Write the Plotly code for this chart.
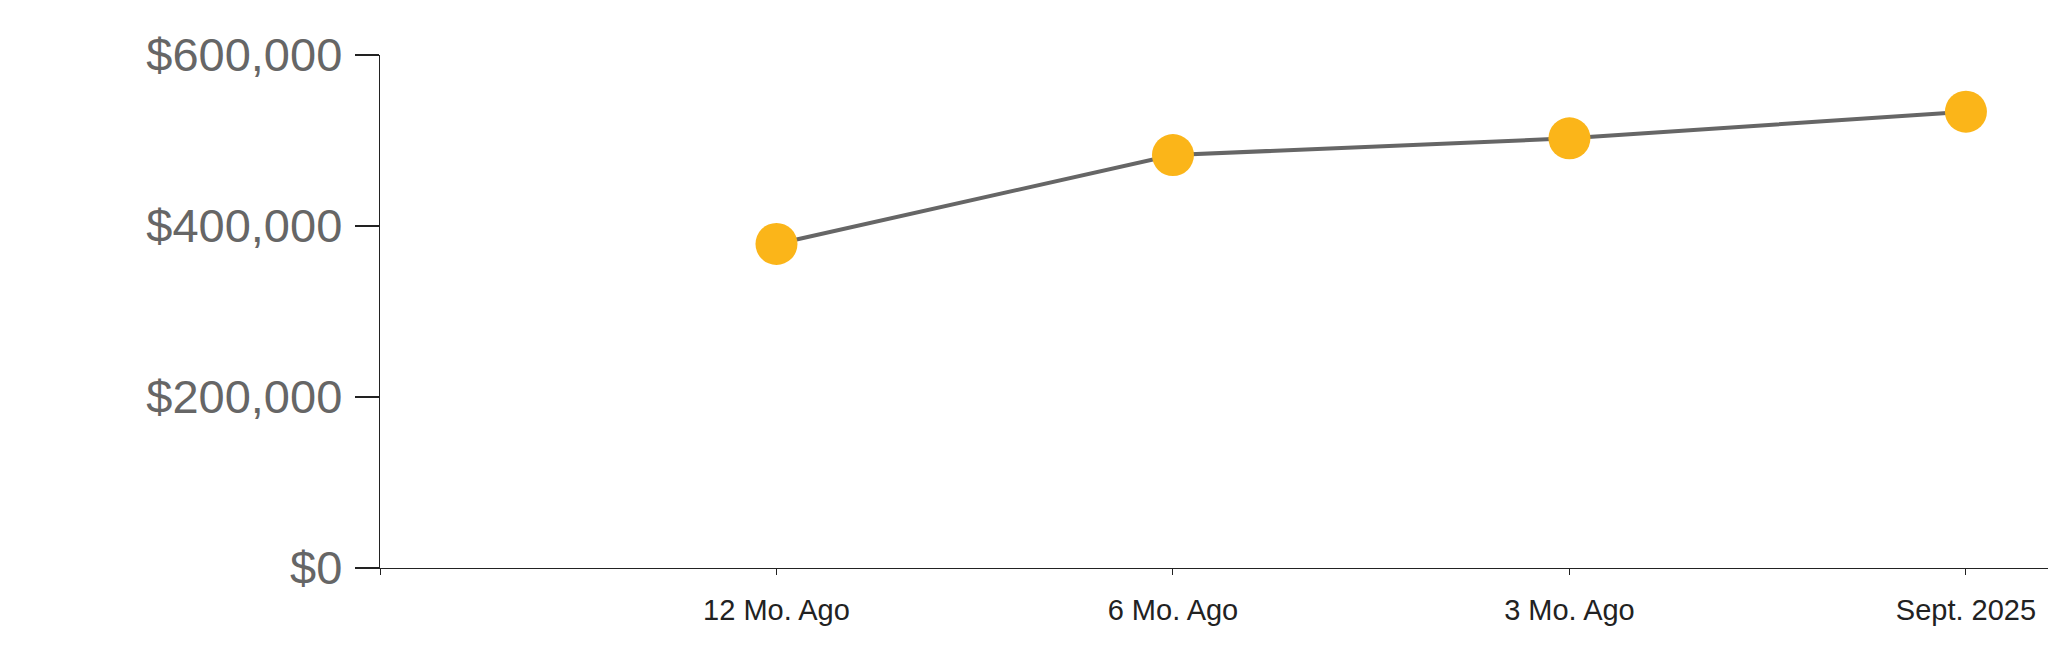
import plotly.graph_objects as go

categories = ["12 Mo. Ago", "6 Mo. Ago", "3 Mo. Ago", "Sept. 2025"]
values = [379000, 483000, 502500, 533700]
y_ticks = [0, 200000, 400000, 600000]
y_tick_labels = ["$0", "$200,000", "$400,000", "$600,000"]

x_pos = list(range(len(categories)))

fig = go.Figure()
fig.add_trace(go.Scatter(
    x=x_pos,
    y=values,
    mode="lines+markers",
    line=dict(color="#666666", width=4),
    marker=dict(color="#FBB519", size=42, line=dict(width=0)),
    hoverinfo="skip",
    showlegend=False,
))

fig.update_layout(
    width=2048,
    height=663,
    margin=dict(l=380, r=0, t=55, b=95),
    paper_bgcolor="white",
    plot_bgcolor="white",
    font=dict(family="Liberation Sans, Arial, sans-serif"),
)

fig.update_xaxes(
    range=[-1, 3.207],
    tickmode="array",
    tickvals=[-1] + x_pos,
    ticktext=[""] + categories,
    ticks="outside",
    ticklen=6,
    tickwidth=1,
    tickcolor="#222222",
    showline=True,
    linecolor="#222222",
    linewidth=1.3,
    showgrid=False,
    zeroline=False,
    tickfont=dict(size=29, color="#222222"),
    ticklabelstandoff=10,
)

fig.update_yaxes(
    range=[0, 600000],
    tickmode="array",
    tickvals=y_ticks,
    ticktext=y_tick_labels,
    ticks="outside",
    ticklen=24,
    tickwidth=1.3,
    tickcolor="#222222",
    showline=True,
    linecolor="#222222",
    linewidth=1.3,
    showgrid=False,
    zeroline=False,
    tickfont=dict(size=47, color="#666666"),
    ticklabelstandoff=3,
)

# remove the browser's default page margin so the figure fills the window exactly
fig.write_html(
    "out.html",
    config={"displayModeBar": False, "staticPlot": True},
    post_script="document.documentElement.style.overflow='hidden';"
                "document.body.style.margin='0';document.body.style.overflow='hidden';",
)
